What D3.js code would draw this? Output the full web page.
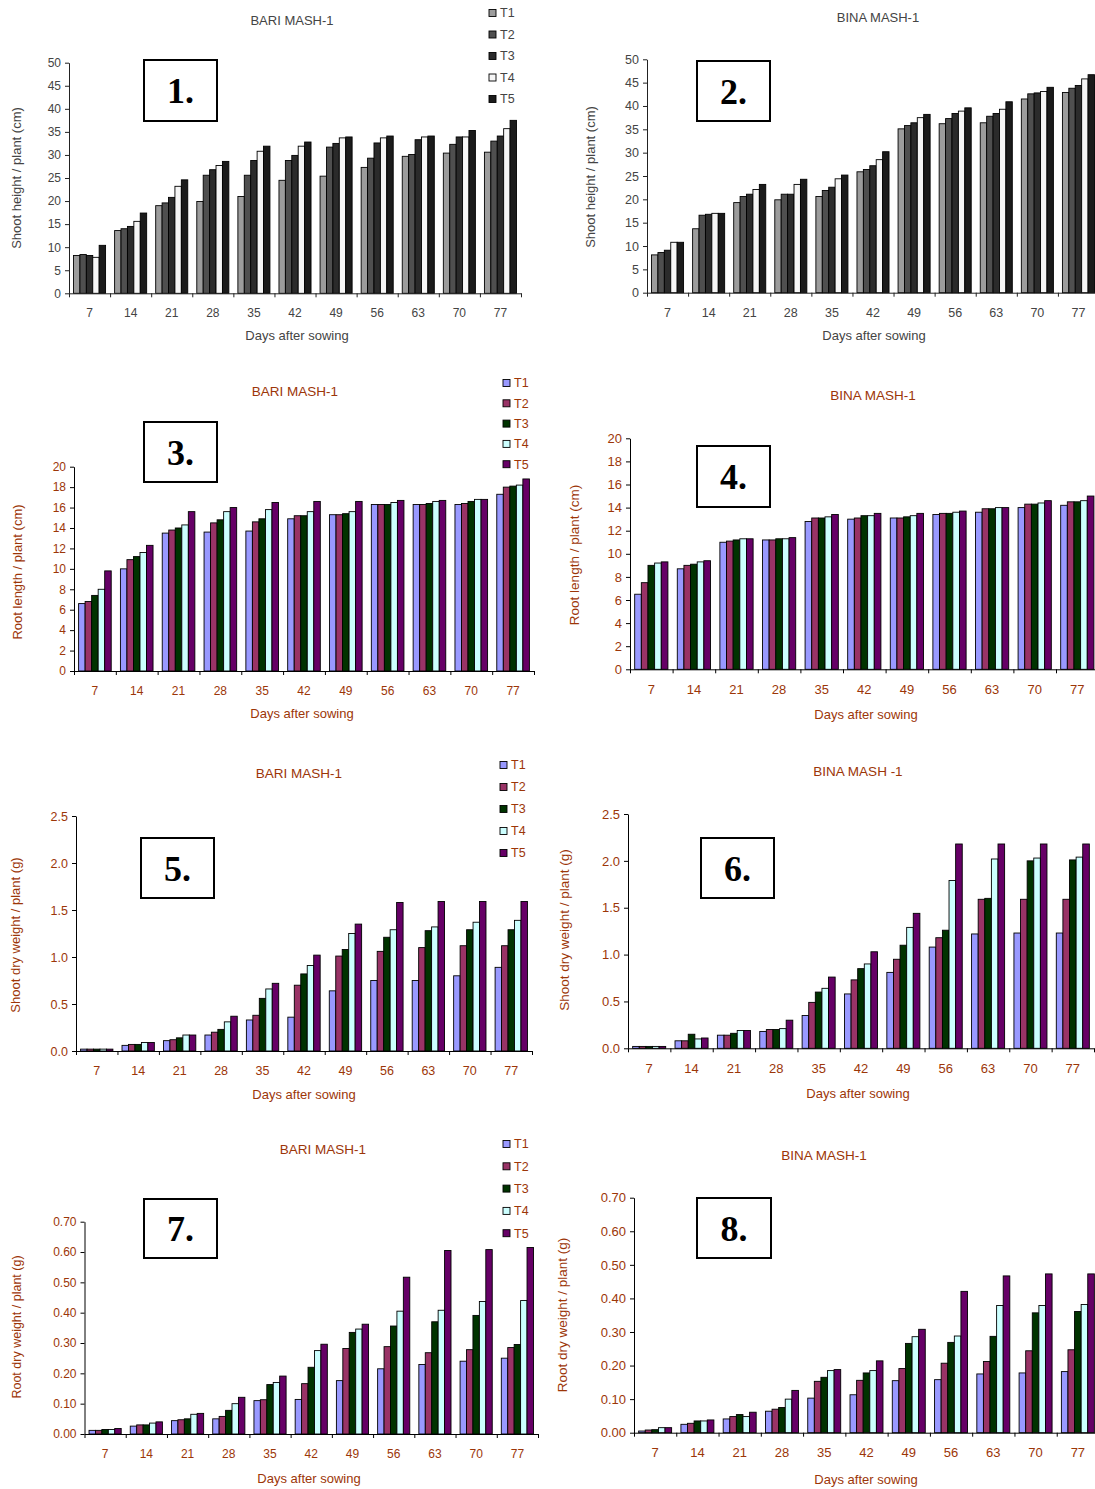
<!DOCTYPE html>
<html>
<head>
<meta charset="utf-8">
<script src="https://cdn.jsdelivr.net/npm/d3@7"></script>
<style>
body { margin: 0; background: #fff; overflow: hidden; }
text { font-family: "Liberation Sans", Arial, sans-serif; }
</style>
</head>
<body>
<div id="graph"></div>
<script>
//Categories and series
var days = [7, 14, 21, 28, 35, 42, 49, 56, 63, 70, 77];
var treatments = ["T1", "T2", "T3", "T4", "T5"];

//Colours of the treatments
var grayColors = ["#9c9c9c", "#4f4f4f", "#2b2b2b", "#f6f6f6", "#1b1b1b"];
var excelColors = ["#9999ff", "#993366", "#003300", "#ccffff", "#660066"];

//1. Shoot height BARI MASH-1 (one row per day, T1..T5)
var shootHeightBari = [
  [8.2, 8.4, 8.2, 7.8, 10.4],
  [13.6, 14.0, 14.5, 15.6, 17.4],
  [19.0, 19.6, 20.8, 23.2, 24.6],
  [19.9, 25.6, 26.8, 27.7, 28.6],
  [21.0, 25.6, 28.8, 30.8, 31.9],
  [24.5, 28.8, 29.9, 31.9, 32.8],
  [25.4, 31.7, 32.5, 33.7, 33.9],
  [27.3, 29.3, 32.6, 33.7, 34.1],
  [29.7, 30.1, 33.3, 33.9, 34.1],
  [30.4, 32.3, 33.9, 33.9, 35.3],
  [30.6, 33.0, 34.1, 35.7, 37.5]
];

//2. Shoot height BINA MASH-1
var shootHeightBina = [
  [8.1, 8.6, 9.1, 10.8, 10.8],
  [13.7, 16.6, 16.8, 17.0, 17.0],
  [19.3, 20.6, 21.1, 22.1, 23.2],
  [19.9, 21.1, 21.1, 23.2, 24.3],
  [20.6, 21.9, 22.6, 24.4, 25.2],
  [25.9, 26.4, 27.2, 28.5, 30.2],
  [35.1, 35.8, 36.4, 37.5, 38.2],
  [36.2, 37.3, 38.4, 38.9, 39.6],
  [36.4, 37.8, 38.4, 39.3, 40.9],
  [41.5, 42.6, 42.8, 43.1, 44.0],
  [42.9, 43.8, 44.4, 45.8, 46.7]
];

//3. Root length BARI MASH-1
var rootLengthBari = [
  [6.6, 6.8, 7.4, 8.0, 9.8],
  [10.0, 10.9, 11.2, 11.6, 12.3],
  [13.5, 13.8, 14.0, 14.3, 15.6],
  [13.6, 14.5, 14.8, 15.6, 16.0],
  [13.7, 14.6, 14.9, 15.8, 16.5],
  [14.9, 15.2, 15.2, 15.6, 16.6],
  [15.3, 15.3, 15.4, 15.6, 16.6],
  [16.3, 16.3, 16.3, 16.5, 16.7],
  [16.3, 16.3, 16.4, 16.6, 16.7],
  [16.3, 16.4, 16.6, 16.8, 16.8],
  [17.3, 18.0, 18.1, 18.2, 18.8]
];

//4. Root length BINA MASH-1
var rootLengthBina = [
  [6.5, 7.5, 9.0, 9.2, 9.3],
  [8.7, 9.0, 9.1, 9.3, 9.4],
  [11.0, 11.1, 11.2, 11.3, 11.3],
  [11.2, 11.2, 11.3, 11.3, 11.4],
  [12.8, 13.1, 13.1, 13.2, 13.4],
  [13.0, 13.1, 13.3, 13.3, 13.5],
  [13.1, 13.1, 13.2, 13.3, 13.5],
  [13.4, 13.5, 13.5, 13.6, 13.7],
  [13.6, 13.9, 13.9, 14.0, 14.0],
  [14.0, 14.3, 14.3, 14.4, 14.6],
  [14.2, 14.5, 14.5, 14.6, 15.0]
];

//5. Shoot dry weight BARI MASH-1
var shootDryBari = [
  [0.02, 0.02, 0.02, 0.02, 0.02],
  [0.06, 0.07, 0.07, 0.09, 0.09],
  [0.11, 0.12, 0.14, 0.17, 0.17],
  [0.17, 0.20, 0.23, 0.31, 0.37],
  [0.33, 0.38, 0.56, 0.66, 0.72],
  [0.36, 0.70, 0.82, 0.91, 1.02],
  [0.64, 1.01, 1.08, 1.25, 1.35],
  [0.75, 1.06, 1.21, 1.29, 1.58],
  [0.75, 1.10, 1.28, 1.32, 1.59],
  [0.80, 1.12, 1.29, 1.37, 1.59],
  [0.89, 1.12, 1.29, 1.39, 1.59]
];

//6. Shoot dry weight BINA MASH -1
var shootDryBina = [
  [0.02, 0.02, 0.02, 0.02, 0.02],
  [0.08, 0.08, 0.15, 0.10, 0.11],
  [0.14, 0.14, 0.16, 0.19, 0.19],
  [0.18, 0.20, 0.20, 0.21, 0.30],
  [0.35, 0.49, 0.60, 0.64, 0.76],
  [0.58, 0.73, 0.85, 0.90, 1.03],
  [0.81, 0.95, 1.10, 1.29, 1.44],
  [1.08, 1.18, 1.26, 1.79, 2.18],
  [1.22, 1.59, 1.60, 2.02, 2.18],
  [1.23, 1.59, 2.00, 2.03, 2.18],
  [1.23, 1.59, 2.01, 2.04, 2.18]
];

//7. Root dry weight BARI MASH-1
var rootDryBari = [
  [0.012, 0.012, 0.015, 0.015, 0.018],
  [0.026, 0.030, 0.030, 0.036, 0.040],
  [0.044, 0.047, 0.050, 0.065, 0.068],
  [0.050, 0.058, 0.078, 0.100, 0.121],
  [0.110, 0.113, 0.163, 0.170, 0.191],
  [0.114, 0.166, 0.220, 0.275, 0.296],
  [0.176, 0.282, 0.335, 0.346, 0.362],
  [0.215, 0.288, 0.356, 0.405, 0.517],
  [0.229, 0.268, 0.370, 0.408, 0.605],
  [0.240, 0.278, 0.391, 0.437, 0.608],
  [0.250, 0.285, 0.295, 0.440, 0.615]
];

//8. Root dry weight BINA MASH-1
var rootDryBina = [
  [0.005, 0.008, 0.009, 0.015, 0.015],
  [0.025, 0.028, 0.035, 0.035, 0.038],
  [0.041, 0.048, 0.054, 0.048, 0.061],
  [0.064, 0.070, 0.075, 0.100, 0.126],
  [0.103, 0.153, 0.165, 0.185, 0.188],
  [0.113, 0.156, 0.178, 0.185, 0.214],
  [0.155, 0.191, 0.266, 0.286, 0.308],
  [0.158, 0.207, 0.269, 0.288, 0.421],
  [0.175, 0.212, 0.287, 0.379, 0.467],
  [0.178, 0.244, 0.357, 0.379, 0.473],
  [0.182, 0.247, 0.361, 0.382, 0.473]
];

//Y ticks of each kind of chart
var heightTicks = d3.range(0, 51, 5);
var lengthTicks = d3.range(0, 21, 2);
var shootDryTicks = [0, 0.5, 1.0, 1.5, 2.0, 2.5];
var rootDryTicks = [0, 0.1, 0.2, 0.3, 0.4, 0.5, 0.6, 0.7];

var width = 1095, height = 1489;
var brown = "#9c3608", gray = "#444444";

//Svg creation
var svg = d3.select("#graph").append("svg")
  .attr("width", width).attr("height", height);

//Panel setup: data + where it sits on the page
var panels = [
  {num: "1.", title: "BARI MASH-1", ytitle: "Shoot height / plant (cm)", data: shootHeightBari, ticks: heightTicks, fmt: d3.format("d"),
   colors: grayColors, text: gray, axis: "#222", fs: 12, tfs: 13, ysize: 13,
   x0: 69, x1: 521, yb: 293.3, yt: 62.7, tx: 292, ty: 20, xtx: 297, xty: 335, ytx: 16, yty: 178,
   box: [144, 60, 73, 61], legend: {x: 489, y: 13, dy: 21.5}},
  {num: "2.", title: "BINA MASH-1", ytitle: "Shoot height / plant (cm)", data: shootHeightBina, ticks: heightTicks, fmt: d3.format("d"),
   colors: grayColors, text: gray, axis: "#222", fs: 12.5, tfs: 13, ysize: 13,
   x0: 647, x1: 1099, yb: 292.7, yt: 59.3, tx: 878, ty: 17, xtx: 874, xty: 335, ytx: 590, yty: 177,
   box: [697, 61, 73, 60]},
  {num: "3.", title: "BARI MASH-1", ytitle: "Root length / plant (cm)", data: rootLengthBari, ticks: lengthTicks, fmt: d3.format("d"),
   colors: excelColors, text: brown, axis: "#000", fs: 12, tfs: 13.5, ysize: 13,
   x0: 74, x1: 534, yb: 671, yt: 466.7, tx: 295, ty: 391, xtx: 302, xty: 713, ytx: 17, yty: 572,
   box: [144, 422, 73, 60], legend: {x: 503, y: 383, dy: 20.3}},
  {num: "4.", title: "BINA MASH-1", ytitle: "Root length / plant (cm)", data: rootLengthBina, ticks: lengthTicks, fmt: d3.format("d"),
   colors: excelColors, text: brown, axis: "#000", fs: 13, tfs: 13.5, ysize: 13.5,
   x0: 630, x1: 1098.6, yb: 669.3, yt: 438.3, tx: 873, ty: 395, xtx: 866, xty: 714, ytx: 574, yty: 555,
   box: [697, 446, 73, 61]},
  {num: "5.", title: "BARI MASH-1", ytitle: "Shoot dry weight / plant (g)", data: shootDryBari, ticks: shootDryTicks, fmt: d3.format(".1f"),
   colors: excelColors, text: brown, axis: "#000", fs: 12.5, tfs: 13.5, ysize: 13,
   x0: 76, x1: 532, yb: 1051, yt: 816, tx: 299, ty: 773, xtx: 304, xty: 1094, ytx: 15, yty: 935,
   box: [141, 838, 73, 60], legend: {x: 500, y: 765, dy: 22}},
  {num: "6.", title: "BINA MASH -1", ytitle: "Shoot dry weight / plant (g)", data: shootDryBina, ticks: shootDryTicks, fmt: d3.format(".1f"),
   colors: excelColors, text: brown, axis: "#000", fs: 13, tfs: 13.5, ysize: 13.5,
   x0: 628, x1: 1094, yb: 1048.3, yt: 814, tx: 858, ty: 771, xtx: 858, xty: 1093, ytx: 564, yty: 930,
   box: [701, 838, 73, 60]},
  {num: "7.", title: "BARI MASH-1", ytitle: "Root dry weight / plant (g)", data: rootDryBari, ticks: rootDryTicks, fmt: d3.format(".2f"),
   colors: excelColors, text: brown, axis: "#000", fs: 12, tfs: 13.5, ysize: 12.5,
   x0: 84.5, x1: 538, yb: 1434, yt: 1221.7, tx: 323, ty: 1149, xtx: 309, xty: 1478, ytx: 17, yty: 1327,
   box: [144, 1199, 73, 59], legend: {x: 503, y: 1144, dy: 22.3}},
  {num: "8.", title: "BINA MASH-1", ytitle: "Root dry weight / plant (g)", data: rootDryBina, ticks: rootDryTicks, fmt: d3.format(".2f"),
   colors: excelColors, text: brown, axis: "#000", fs: 13, tfs: 13.5, ysize: 13.5,
   x0: 634, x1: 1099, yb: 1432.7, yt: 1197.7, tx: 824, ty: 1155, xtx: 866, xty: 1479, ytx: 562, yty: 1315,
   box: [697, 1198, 74, 60]}
];

panels.forEach(drawPanel);

function drawPanel(p) {
  var g = svg.append("g");
  var ymax = p.ticks[p.ticks.length - 1];

  //scales
  var x = d3.scaleBand().domain(days).range([p.x0, p.x1]).paddingInner(0.22).paddingOuter(0.11);
  var xs = d3.scaleBand().domain(treatments).range([0, x.bandwidth()]);
  var y = d3.scaleLinear().domain([0, ymax]).range([p.yb, p.yt]);
  var xEdge = d3.scaleLinear().domain([0, days.length]).range([p.x0, p.x1]);
  var color = d3.scaleOrdinal().domain(treatments).range(p.colors);

  //bars
  var groups = g.selectAll(".grp")
    .data(days.map(function(d, i) { return {day: d, vals: p.data[i]}; }))
    .enter().append("g")
      .attr("class", "grp")
      .attr("transform", function(d) { return "translate(" + x(d.day) + ",0)"; });

  groups.selectAll("rect")
    .data(function(d) { return d.vals.map(function(v, j) { return {t: treatments[j], v: v}; }); })
    .enter().append("rect")
      .attr("x", function(d) { return xs(d.t); })
      .attr("y", function(d) { return y(d.v); })
      .attr("width", xs.bandwidth())
      .attr("height", function(d) { return p.yb - y(d.v); })
      .attr("fill", function(d) { return color(d.t); })
      .attr("stroke", "#000")
      .attr("stroke-width", 0.9);

  //y axis
  var yAxis = g.append("g")
    .attr("transform", "translate(" + p.x0 + ",0)")
    .call(d3.axisLeft(y).tickValues(p.ticks).tickFormat(p.fmt).tickSize(4).tickSizeOuter(0).tickPadding(4));

  //x axis with labels in the middle of each category
  var xAxis = g.append("g")
    .attr("transform", "translate(0," + p.yb + ")")
    .call(d3.axisBottom(x).tickSize(0).tickSizeOuter(0).tickPadding(15));

  //tick marks between categories
  var xTicks = g.append("g")
    .attr("transform", "translate(0," + p.yb + ")")
    .call(d3.axisBottom(xEdge).tickValues(d3.range(days.length + 1)).tickFormat("").tickSize(4));
  xTicks.select(".domain").remove();

  [yAxis, xAxis, xTicks].forEach(function(a) {
    a.selectAll("path, line").attr("stroke", p.axis);
    a.selectAll("text")
      .attr("fill", p.text)
      .attr("font-size", p.fs);
  });

  //titles
  g.append("text")
    .attr("x", p.tx).attr("y", p.ty).attr("dy", "0.35em")
    .attr("text-anchor", "middle")
    .attr("font-size", p.tfs)
    .attr("fill", p.text)
    .text(p.title);

  g.append("text")
    .attr("x", p.xtx).attr("y", p.xty).attr("dy", "0.35em")
    .attr("text-anchor", "middle")
    .attr("font-size", 13)
    .attr("fill", p.text)
    .text("Days after sowing");

  g.append("text")
    .attr("transform", "translate(" + p.ytx + "," + p.yty + ") rotate(-90)")
    .attr("dy", "0.35em")
    .attr("text-anchor", "middle")
    .attr("font-size", p.ysize)
    .attr("fill", p.text)
    .text(p.ytitle);

  //numbered box
  g.append("rect")
    .attr("x", p.box[0]).attr("y", p.box[1])
    .attr("width", p.box[2]).attr("height", p.box[3])
    .attr("fill", "#fff").attr("stroke", "#000").attr("stroke-width", 2);

  g.append("text")
    .attr("x", p.box[0] + p.box[2] / 2).attr("y", p.box[1] + p.box[3] / 2).attr("dy", "0.36em")
    .attr("text-anchor", "middle")
    .style("font-family", "'Liberation Serif', 'Times New Roman', serif")
    .style("font-weight", "bold")
    .style("font-size", "36px")
    .attr("fill", "#000")
    .text(p.num);

  //legend
  if (p.legend) {
    var leg = g.selectAll(".leg")
      .data(treatments)
      .enter().append("g")
        .attr("class", "leg")
        .attr("transform", function(d, i) { return "translate(" + p.legend.x + "," + (p.legend.y + i * p.legend.dy) + ")"; });

    leg.append("rect")
      .attr("x", 0).attr("y", -3.5)
      .attr("width", 7).attr("height", 7)
      .attr("fill", function(d) { return color(d); })
      .attr("stroke", "#000").attr("stroke-width", 0.9);

    leg.append("text")
      .attr("x", 11).attr("dy", "0.35em")
      .attr("font-size", 12.5)
      .attr("fill", p.text)
      .text(function(d) { return d; });
  }
}
</script>
</body>
</html>
